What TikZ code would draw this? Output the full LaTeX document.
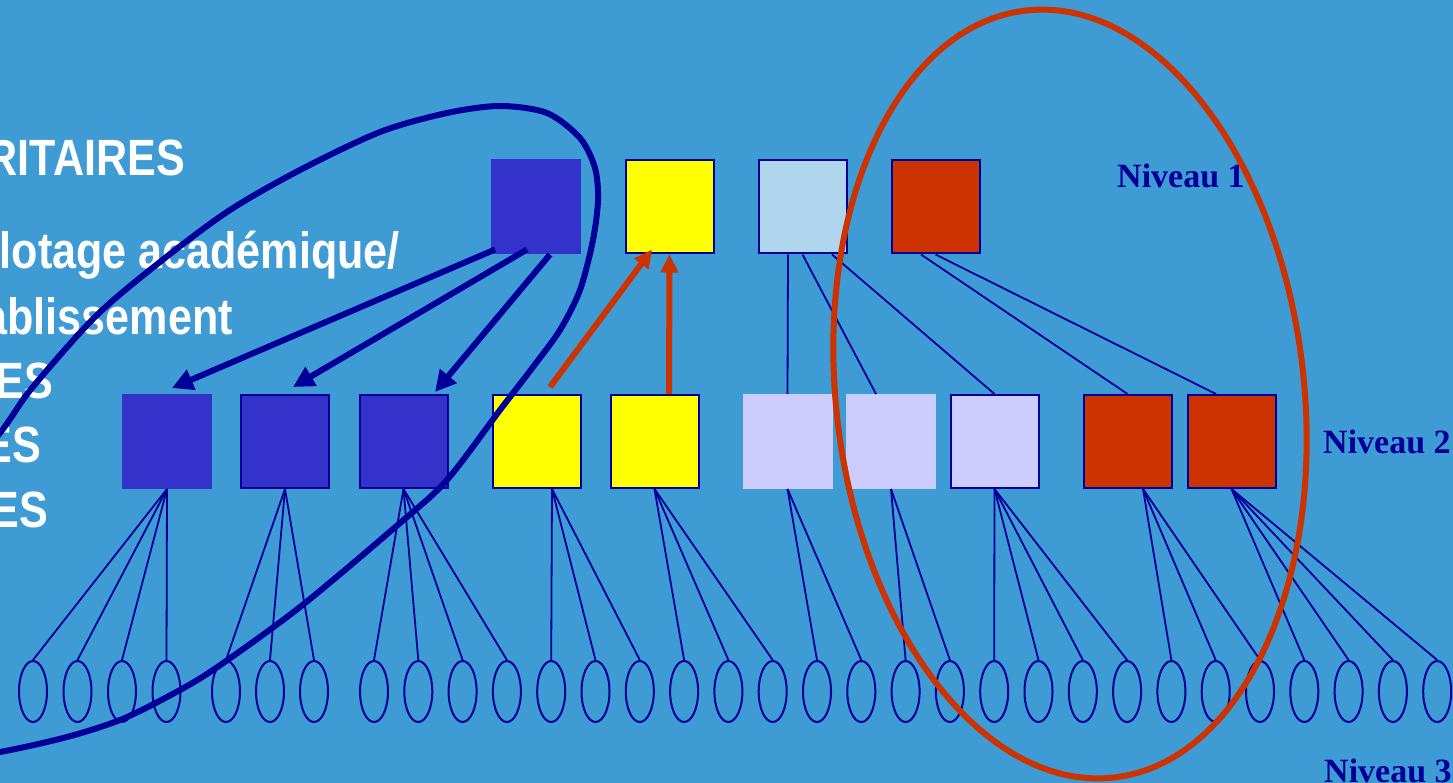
\documentclass[tikz,border=0pt]{standalone}
\usepackage{fontspec}
\usetikzlibrary{arrows.meta,shapes.geometric}
\newfontfamily\captionfont[FakeStretch=0.845]{Liberation Sans}
\newfontfamily\levelfont{Liberation Serif}
\definecolor{sky}{HTML}{3E9BD3}
\definecolor{navy}{HTML}{000099}
\definecolor{royal}{HTML}{3333CC}
\definecolor{lemon}{HTML}{FFFF00}
\definecolor{pale}{HTML}{AFD6EC}
\definecolor{lilac}{HTML}{CCCCFF}
\definecolor{brick}{HTML}{CC3300}
\tikzset{
  box/.style={rectangle, minimum width=88pt, minimum height=93pt, inner sep=0pt, draw=navy, line width=2pt},
  plain/.style={box, draw=#1},
  leaf/.style={ellipse, minimum width=28pt, minimum height=61pt, inner sep=0pt, draw=navy, line width=2pt},
  wire/.style={navy, line width=1.8pt},
  bluearrow/.style={navy, line width=6pt, -{Triangle[length=21pt,width=21pt]}},
  redarrow/.style={brick, line width=6pt, -{Triangle[length=18pt,width=17pt]}},
  lefttxt/.style={text=white, inner sep=0pt, font=\captionfont\bfseries\fontsize{51}{51}\selectfont},
  lvl/.style={text=navy, inner sep=0pt, anchor=base west, font=\levelfont\bfseries\fontsize{34}{34}\selectfont}
}
\begin{document}
\begin{tikzpicture}[x=1pt,y=-1pt]
\useasboundingbox (0,0) rectangle (1453,783);
\clip (0,0) rectangle (1453,783);
\fill[sky] (0,0) rectangle (1453,783);

% left column of captions
\node[lefttxt, anchor=base east] (c1) at (185,176) {RITAIRES};
\node[lefttxt, anchor=base east] (c2) at (400,269) {lotage académique/};
\node[lefttxt, anchor=base east] (c3) at (233,335) {ablissement};
\node[lefttxt, anchor=base east] (c4) at (53,398) {ES};
\node[lefttxt, anchor=base east] (c5) at (41,462) {ES};
\node[lefttxt, anchor=base east] (c6) at (48,527) {ES};

% level labels
\node[lvl] (n1) at (1117,188) {Niveau 1};
\node[lvl] (n2) at (1323,453) {Niveau 2};
\node[lvl] (n3) at (1324,782) {Niveau 3};

% level 1
\node[plain=royal, fill=royal] (tb) at (536,207) {};
\node[box, fill=lemon] (ty) at (669.5,207) {};
\node[box, fill=pale] (lb) at (802.5,207) {};
\node[box, fill=brick] (rt) at (935.5,207) {};

% level 2
\node[plain=royal, fill=royal] (b1) at (167,441.5) {};
\node[box, fill=royal] (b2) at (285,441.5) {};
\node[box, fill=royal] (b3) at (403.5,441.5) {};
\node[box, fill=lemon] (y1) at (536.5,441.5) {};
\node[box, fill=lemon] (y2) at (654.5,441.5) {};
\node[plain=lilac, fill=lilac] (l1) at (787.5,441.5) {};
\node[plain=lilac!80!pale, fill=lilac] (l2) at (891,441.5) {};
\node[box, fill=lilac] (l3) at (994.5,441.5) {};
\node[box, fill=brick] (r1) at (1127.5,441.5) {};
\node[box, fill=brick] (r2) at (1231.5,441.5) {};

% level 3
\foreach \i/\x in {1/33,2/77.5,3/122,4/166.5,5/226,6/270,7/314,
  8/374,9/418.3,10/462.6,11/506.9,12/551.2,13/595.5,14/639.8,15/684.1,
  16/728.4,17/772.7,18/817,19/861.3,20/905.6,21/949.9,22/994.2,23/1038.5,
  24/1082.8,25/1127.1,26/1171.4,27/1215.7,28/1260,29/1304.3,30/1348.6,
  31/1392.9,32/1437.2}
  \node[leaf] (e\i) at (\x,691.5) {};

% level 1 to level 2
\draw[wire] ([xshift=-14.5pt]lb.south) -- (l1.north);
\draw[wire] (lb.south) -- ([xshift=-15pt]l2.north);
\draw[wire] ([xshift=29.5pt]lb.south) -- (l3.north);
\draw[wire] ([xshift=-14.5pt]rt.south) -- (r1.north);
\draw[wire] (rt.south) -- ([xshift=-15.5pt]r2.north);

% level 2 to level 3
\foreach \s/\t in {b1/1,b1/2,b1/3,b1/4,b2/5,b2/6,b2/7,b3/8,b3/9,b3/10,b3/11,
  y2/15,y2/16,y2/17,l1/18,l1/19,l2/20,l2/21,l3/22,l3/23,l3/24,l3/25,
  r2/29,r2/30,r2/31,r2/32}
  \draw[wire] (\s.south) -- (e\t.north);
\foreach \t in {12,13,14}
  \draw[wire] ([xshift=15.5pt]y1.south) -- (e\t.north);
\foreach \t in {26,27,28}
  \draw[wire] ([xshift=15.5pt]r1.south) -- (e\t.north);

% grouping outlines
\draw[navy, line width=6pt] plot[smooth cycle] coordinates {
  (500,106) (547,113) (580,138) (595,168) (598,200) (593,240) (580,290)
  (560,330) (533,367) (500,410) (447,480) (400,523) (300,607) (213,670)
  (167,697) (120,720) (67,737) (0,752) (-60,760) (-110,745) (-130,700)
  (-115,620) (-70,520) (0,433) (32,388) (97,315) (165,258) (230,210)
  (300,170) (380,132) (447,113)};
\draw[brick, line width=6pt] (1070,394) ellipse [x radius=234, y radius=386, rotate=6.6];

% arrows
\draw[bluearrow] ([xshift=-41pt,yshift=5pt]tb.south) -- ([xshift=5pt,yshift=6pt]b1.north);
\draw[bluearrow] ([xshift=-9pt,yshift=5pt]tb.south) -- ([xshift=8pt,yshift=7pt]b2.north);
\draw[bluearrow] ([xshift=14pt]tb.south) -- ([xshift=31.5pt,yshift=2pt]b3.north);
\draw[redarrow] ([xshift=13.5pt,yshift=7pt]y1.north) -- ([xshift=-17.5pt,yshift=5pt]ty.south);
\draw[redarrow] ([xshift=14.5pt]y2.north) -- (ty.south);
\end{tikzpicture}
\end{document}
